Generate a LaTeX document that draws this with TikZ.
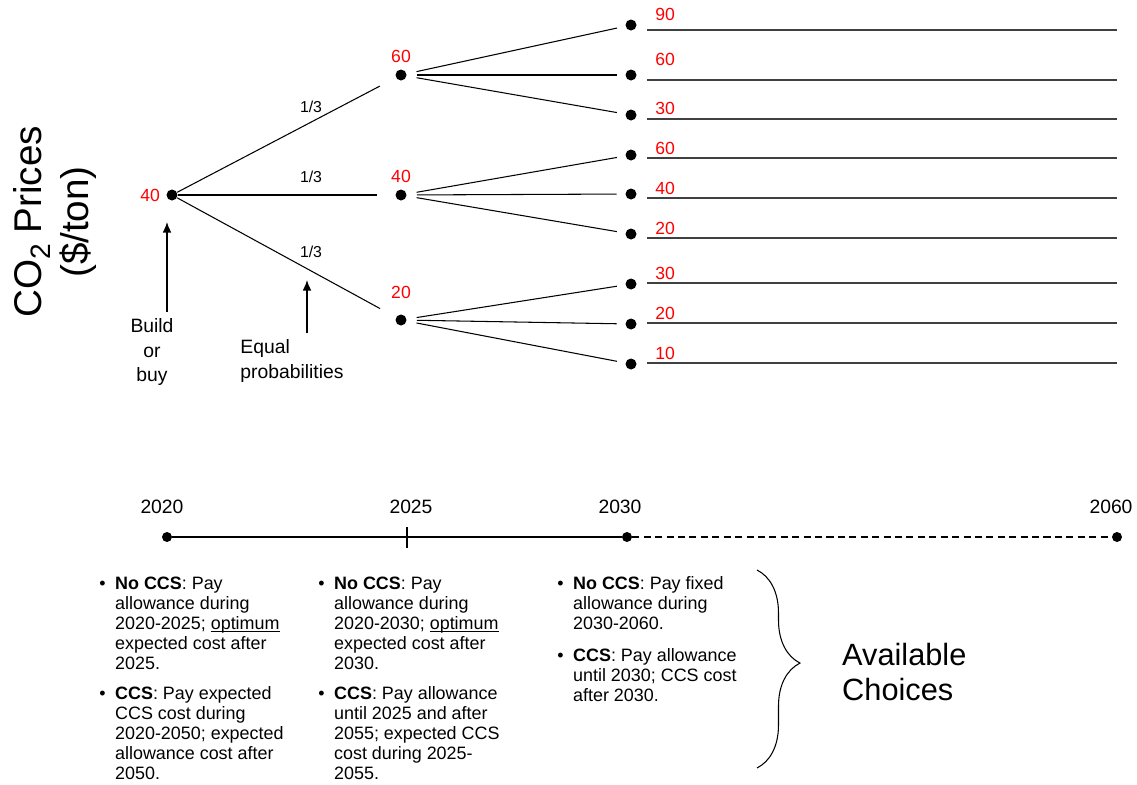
\documentclass[tikz,border=0pt]{standalone}
\usepackage{fontspec}
\setmainfont{Liberation Sans}
\usetikzlibrary{decorations.pathreplacing, arrows.meta}

\newcommand{\choicebullet}{\makebox[9pt][l]{\textbullet}}

\tikzset{
  dot/.style={circle, fill=black, inner sep=0pt, minimum size=0.22cm},
  tdot/.style={circle, fill=black, inner sep=0pt, minimum size=0.2cm},
  price/.style={text=red, font=\fontsize{10}{12}\selectfont},
  prob/.style={font=\fontsize{9}{11}\selectfont},
  branch/.style={line width=0.6pt},
  hline/.style={line width=0.8pt, black!75},
  note/.style={font=\fontsize{11}{14}\selectfont, align=center},
  pointer/.style={-{Latex[length=6pt, width=5pt]}, line width=0.8pt},
  choice/.style={anchor=base west, inner sep=0pt, font=\fontsize{10.2}{11.4}\selectfont},
  year/.style={font=\fontsize{11}{13}\selectfont},
}

\begin{document}
\begin{tikzpicture}[x=0.02cm, y=-0.02cm]
        \useasboundingbox (0,0) rectangle (1137,785);

        \node[rotate=90, align=center, font=\fontsize{22}{27}\selectfont] (ylabel) at (55,222) {CO\raisebox{-0.25em}{\fontsize{16}{16}\selectfont 2} Prices\\(\$/ton)};

        % tree of prices
        \node[dot, label={[price]left:40}] (root) at (172,195) {};
        \node[dot, label={[price]above:60}] (m60) at (401,75) {};
        \node[dot, label={[price]above:40}] (m40) at (401,195) {};
        \node[dot, label={[price, label distance=0.18cm]above:20}] (m20) at (401,320) {};

        \draw[branch, shorten >=0.36cm] (root) -- (m60);
        \draw[branch, shorten >=0.36cm] (root) -- (m40);
        \draw[branch, shorten >=0.36cm] (root) -- (m20);
        \node[prob] (q60) at (311,107) {1/3};
        \node[prob] (q40) at (311,177) {1/3};
        \node[prob] (q20) at (311,252) {1/3};

        \node[dot] (r90) at (631,25) {};
        \node[dot] (r60a) at (631,75) {};
        \node[dot] (r30a) at (631,115) {};
        \node[dot] (r60b) at (631,155) {};
        \node[dot] (r40) at (631,194) {};
        \node[dot] (r20a) at (631,234) {};
        \node[dot] (r30b) at (631,284) {};
        \node[dot] (r20b) at (631,324) {};
        \node[dot] (r10) at (631,364) {};

        \draw[branch, shorten <=0.2cm, shorten >=0.17cm] (m60) -- (r90);
        \draw[branch, shorten <=0.2cm, shorten >=0.17cm] (m60) -- (r60a);
        \draw[branch, shorten <=0.2cm, shorten >=0.17cm] (m60) -- (r30a);
        \draw[branch, shorten <=0.2cm, shorten >=0.17cm] (m40) -- (r60b);
        \draw[branch, shorten <=0.2cm, shorten >=0.17cm] (m40) -- (r40);
        \draw[branch, shorten <=0.2cm, shorten >=0.17cm] (m40) -- (r20a);
        \draw[branch, shorten <=0.2cm, shorten >=0.17cm] (m20) -- (r30b);
        \draw[branch, shorten <=0.2cm, shorten >=0.17cm] (m20) -- (r20b);
        \draw[branch, shorten <=0.2cm, shorten >=0.17cm] (m20) -- (r10);

        \draw[hline] ([shift={(10,5)}]r90.east) -- ++(470,0);
        \draw[hline] ([shift={(10,5)}]r60a.east) -- ++(470,0);
        \draw[hline] ([shift={(10,4)}]r30a.east) -- ++(470,0);
        \draw[hline] ([shift={(10,3)}]r60b.east) -- ++(470,0);
        \draw[hline] ([shift={(10,4)}]r40.east) -- ++(470,0);
        \draw[hline] ([shift={(10,4)}]r20a.east) -- ++(470,0);
        \draw[hline] ([shift={(10,-1)}]r30b.east) -- ++(470,0);
        \draw[hline] ([shift={(10,-1)}]r20b.east) -- ++(470,0);
        \draw[hline] ([shift={(10,-1)}]r10.east) -- ++(470,0);

        \node[price, anchor=base west, inner sep=0pt] (v90) at (655,20) {90};
        \node[price, anchor=base west, inner sep=0pt] (v60a) at (655,65) {60};
        \node[price, anchor=base west, inner sep=0pt] (v30a) at (655,114) {30};
        \node[price, anchor=base west, inner sep=0pt] (v60b) at (655,154) {60};
        \node[price, anchor=base west, inner sep=0pt] (v40) at (655,194) {40};
        \node[price, anchor=base west, inner sep=0pt] (v20a) at (655,234) {20};
        \node[price, anchor=base west, inner sep=0pt] (v30b) at (655,279) {30};
        \node[price, anchor=base west, inner sep=0pt] (v20b) at (655,319) {20};
        \node[price, anchor=base west, inner sep=0pt] (v10) at (655,359) {10};

        % pointers
        \node[note] (build) at (152,352) {Build\\or\\buy};
        \coordinate (buildtip) at (167,222);
        \draw[pointer] (build.north -| buildtip) -- (buildtip);
        \node[note, align=left] (equal) at (292,361) {Equal\\probabilities};
        \coordinate (equaltip) at (307,280);
        \draw[pointer] (equal.north -| equaltip) -- (equaltip);

        % time line
        \node[tdot] (t2020) at (167,537) {};
        \coordinate (t2025) at (407,537);
        \node[tdot] (t2030) at (627,537) {};
        \node[tdot] (t2060) at (1117,537) {};
        \draw[line width=0.8pt] (t2020) -- (t2030);
        \draw[line width=0.8pt, dash pattern=on 4pt off 2.5pt] (t2030) -- (t2060);
        \draw[line width=0.6pt] (t2025) ++(0,-10) -- ++(0,21);
        \node[year] (y2020) at (162,507) {2020};
        \node[year] (y2025) at (411,507) {2025};
        \node[year] (y2030) at (620,507) {2030};
        \node[year] (y2060) at (1111,507) {2060};

        % choices
        \node[choice] (c1a) at (99,589) {\begin{tabular}[t]{@{}l@{}l@{}}
            \choicebullet & \textbf{No CCS}: Pay\\
            & allowance during\\
            & 2020-2025; \smash{\underbar{optimum}}\\
            & expected cost after\\
            & 2025.\end{tabular}};
        \node[choice] (c1b) at (99,699) {\begin{tabular}[t]{@{}l@{}l@{}}
            \choicebullet & \textbf{CCS}: Pay expected\\
            & CCS cost during\\
            & 2020-2050; expected\\
            & allowance cost after\\
            & 2050.\end{tabular}};
        \node[choice] (c2a) at (318,589) {\begin{tabular}[t]{@{}l@{}l@{}}
            \choicebullet & \textbf{No CCS}: Pay\\
            & allowance during\\
            & 2020-2030; \smash{\underbar{optimum}}\\
            & expected cost after\\
            & 2030.\end{tabular}};
        \node[choice] (c2b) at (318,699) {\begin{tabular}[t]{@{}l@{}l@{}}
            \choicebullet & \textbf{CCS}: Pay allowance\\
            & until 2025 and after\\
            & 2055; expected CCS\\
            & cost during 2025-\\
            & 2055.\end{tabular}};
        \node[choice] (c3a) at (557,589) {\begin{tabular}[t]{@{}l@{}l@{}}
            \choicebullet & \textbf{No CCS}: Pay fixed\\
            & allowance during\\
            & 2030-2060.\end{tabular}};
        \node[choice] (c3b) at (557,661) {\begin{tabular}[t]{@{}l@{}l@{}}
            \choicebullet & \textbf{CCS}: Pay allowance\\
            & until 2030; CCS cost\\
            & after 2030.\end{tabular}};

        \coordinate (btop) at (757,570);
        \coordinate (bbot) at (757,768);
        \draw[line width=0.6pt, decorate, decoration={brace, amplitude=0.86cm, aspect=0.47}] (btop) -- (bbot);
        \node[font=\fontsize{17.5}{20}\selectfont, align=left, anchor=west] (avail) at (836,672) {Available\\Choices};
\end{tikzpicture}
\end{document}
